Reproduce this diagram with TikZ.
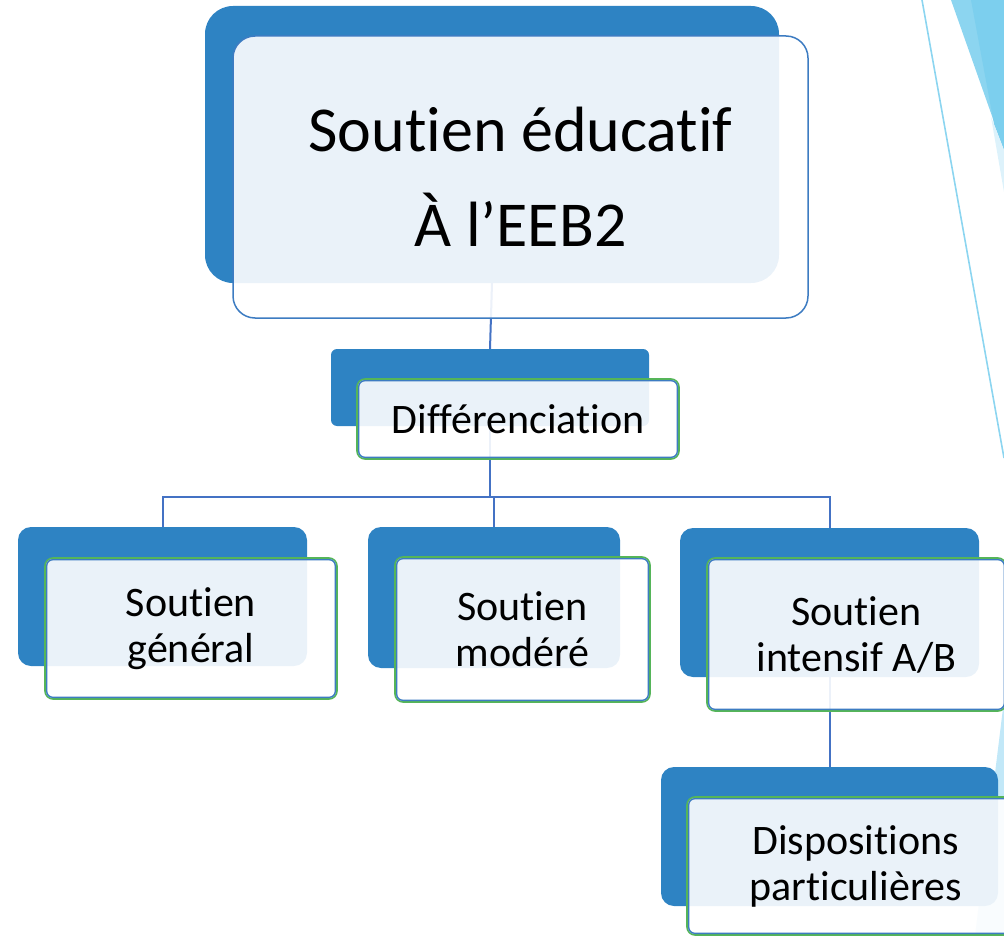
\documentclass[tikz,border=0pt]{standalone}
\usepackage{fontspec}
\setmainfont[Ligatures=NoCommon]{Carlito}
\usetikzlibrary{calc}

\definecolor{darkbox}{HTML}{2E83C3}
\definecolor{linkblue}{HTML}{4472C4}
\definecolor{frameblue}{HTML}{3D7CC2}
\definecolor{framegreen}{HTML}{55B559}
\definecolor{facetA}{HTML}{8CD5F0}
\definecolor{facetB}{HTML}{7CCFEE}
\definecolor{facetC}{HTML}{DDF2FB}
\definecolor{facetD}{HTML}{C2E8F8}

\tikzset{
  back/.style={fill=darkbox, inner sep=0pt, rounded corners=#1},
  back/.default=13pt,
  front/.style={fill=white, fill opacity=0.9, text opacity=1, draw=framegreen,
    line width=1.6pt, rounded corners=8pt, inner sep=0pt, align=center,
    font=\fontsize{42}{46}\selectfont},
  link/.style={draw=linkblue, line width=2pt},
  inner frame/.style={draw=frameblue, line width=1.4pt, rounded corners=6pt},
}

\begin{document}
\begin{tikzpicture}[x=1pt,y=-1pt]
        \useasboundingbox (0,0) rectangle (1004,936);
        \clip (0,0) rectangle (1004,936);
        % Draw the facets on the right
        \fill[facetA] (951,0) -- (1004,0) -- (1004,150) -- cycle;
        \fill[facetB] (971,0) -- (1004,0) -- (1004,150) -- (994,124) -- cycle;
        \fill[facetC] (991,117) -- (1004,150) -- (1004,192) -- cycle;
        \fill[facetD] (1004,700) -- (975,936) -- (1004,936) -- cycle;
        \draw[facetA, line width=1.6pt] (922,0) -- (1004,458);
        % Draw back boxes
        \node[back=28pt, minimum width=574, minimum height=277] (topB) at (492,144.5) {};
        \node[back=6pt, minimum width=318, minimum height=77] (diffB) at (490,387.5) {};
        \node[back, minimum width=289, minimum height=139] (genB) at (162.5,596.5) {};
        \node[back, minimum width=252, minimum height=141] (modB) at (494,597.5) {};
        \node[back, minimum width=299, minimum height=149] (intB) at (829.5,602.5) {};
        \node[back, minimum width=337, minimum height=139] (dispB) at (829.5,836.5) {};
        % Draw connectors
        \coordinate (bus) at (490,497);
        \draw[link] (topB.south) -- (diffB.north);
        \draw[link] (diffB.south) -- (bus);
        \draw[link] (genB.north) -- (genB.north |- bus) -- (intB.north |- bus) -- (intB.north);
        \draw[link] (modB.north) -- (modB.north |- bus);
        \draw[link] (intB.south) -- (dispB.north);
        % Draw front boxes
        \node[front, draw=frameblue, line width=1.5pt, rounded corners=22pt,
          minimum width=575, minimum height=282, font=\fontsize{64}{95}\selectfont]
          (top) at (520.5,177) {Soutien éducatif\\À l’EEB2};
        \node[front, minimum width=322, minimum height=80] (diff) at (518,419) {Différenciation};
        \node[front, minimum width=292, minimum height=141] (gen) at (191,628.5) {Soutien\\général};
        \node[front, minimum width=255, minimum height=145] (mod) at (522.5,629.5) {Soutien\\modéré};
        \node[front, minimum width=299, minimum height=153] (int) at (856.5,634.5) {Soutien\\intensif A/B};
        \node[front, minimum width=337, minimum height=138] (disp) at (855.5,866) {Dispositions\\particulières};
        % Inner blue frames
        \foreach \n in {diff,gen,mod,int,disp}
          \draw[inner frame] ([xshift=2.5pt,yshift=2.5pt]\n.south west) rectangle ([xshift=-2.5pt,yshift=-2.5pt]\n.north east);
    \end{tikzpicture}
\end{document}
